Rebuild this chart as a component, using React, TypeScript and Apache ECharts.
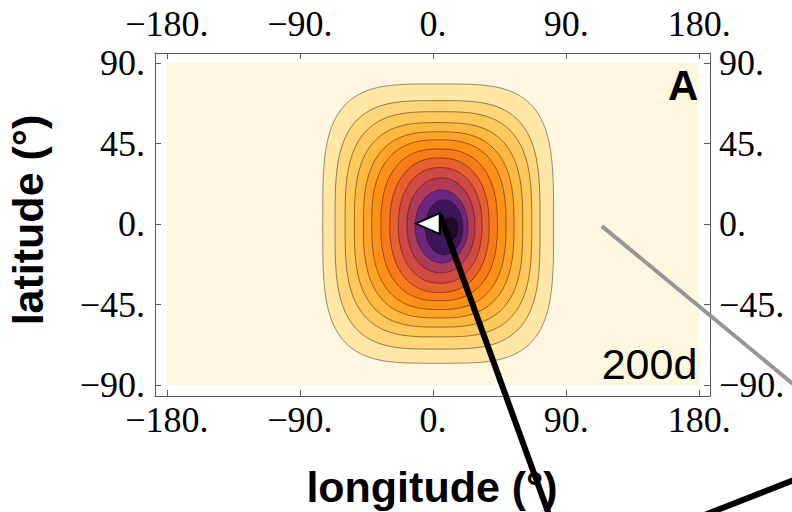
import { useEffect, useRef } from 'react';
import * as echarts from 'echarts';

// Axis ticks (degrees)
const lonTicks = [-180, -90, 0, 90, 180];
const latTicks = [-90, -45, 0, 45, 90];

// Contour boundaries, outermost first: centre, half extents (degrees) and squareness
const contourCenterLon = [3.4, 3.0, 3.6, 3.7, 3.8, 3.9, 4.1, 4.3, 4.8, 5.3, 5.7, 7.4, 11.8];
const contourCenterLat = [0.3, -0.4, -0.1, -0.4, -0.4, -0.3, -0.4, -0.6, -0.7, -0.7, -1.3, -1.8, -2.5];
const contourHalfLon = [78.0, 69.3, 63.1, 56.9, 50.9, 45.4, 39.4, 33.6, 28.3, 23.0, 17.9, 12.8, 5.1];
const contourHalfLat = [78.0, 69.4, 62.9, 57.1, 52.0, 47.4, 42.4, 37.6, 32.3, 26.5, 20.4, 15.4, 6.4];
const contourSquareness = [3.7, 3.4, 3.15, 2.95, 2.75, 2.6, 2.45, 2.3, 2.2, 2.1, 2.0, 2.0, 2.0];

// Source location (lon, lat)
const sourcePoint = [-3.6, 0.3];

const panelLabel = 'A';
const timeLabel = '200d';

// Fill colours: field background, then one per contour band (outer to inner)
const fieldColor = '#FEF6DF';
const bandColors = [
  '#FFE8A6', '#FFD67A', '#FFC85A', '#FFB840', '#FFA428', '#FF9018', '#F87A18',
  '#E86030', '#D24A44', '#B03C58', '#6E2780', '#3C1658', '#1E0A26',
];

// Connector lines to neighbouring panels, in lon/lat coordinates
const connectorLines = [
  { from: [4.8, 5.0], to: [80, -166], color: '#000000', width: 6 },
  { from: [114.1, -1.1], to: [262, -102], color: '#969696', width: 4 },
  { from: [180.6, -163.4], to: [250, -141], color: '#000000', width: 6 },
];

const fmt = (v: number) => (v < 0 ? '\u2212' + -v : String(v)) + '.';

const serif = 'Liberation Serif, Times New Roman, serif';
const sans = 'Liberation Sans, Arial, Helvetica, sans-serif';
const frameColor = '#5a5a5a';

function axisCommon(ticks: number[], margin: number) {
  return {
    type: 'value' as const,
    axisLine: { show: true, onZero: false, lineStyle: { color: frameColor, width: 1 } },
    axisTick: { show: true, inside: true, length: 6, customValues: ticks, lineStyle: { color: frameColor, width: 1 } },
    axisLabel: {
      customValues: ticks,
      formatter: fmt,
      fontFamily: serif,
      fontSize: 36,
      color: '#000',
      margin,
    },
    splitLine: { show: false },
  };
}

export default function App() {
  const ref = useRef<HTMLDivElement>(null);

  useEffect(() => {
    if (!ref.current) return;
    const chart = echarts.init(ref.current, undefined, { renderer: 'svg' });

    const contourData = contourCenterLon.map((lon, i) => [
      lon,
      contourCenterLat[i],
      contourHalfLon[i],
      contourHalfLat[i],
      contourSquareness[i],
    ]);

    const xMin = -188;
    const xMax = 187.2;
    const yMin = -96;
    const yMax = 95.6;

    chart.setOption({
      animation: false,
      grid: { left: 155, top: 53, width: 555, height: 343, containLabel: false },
      xAxis: [
        { ...axisCommon(lonTicks, 6), position: 'bottom', min: xMin, max: xMax },
        { ...axisCommon(lonTicks, 11), position: 'top', min: xMin, max: xMax },
      ],
      yAxis: [
        { ...axisCommon(latTicks, 10), position: 'left', min: yMin, max: yMax },
        { ...axisCommon(latTicks, 9), position: 'right', min: yMin, max: yMax },
      ],
      graphic: [
        {
          type: 'text',
          x: 432,
          y: 487,
          z: 1,
          style: { text: 'longitude (°)', font: `bold 43px ${sans}`, fill: '#000', align: 'center', verticalAlign: 'middle' },
        },
        {
          type: 'text',
          x: 28,
          y: 220,
          rotation: Math.PI / 2,
          z: 1,
          style: { text: 'latitude (°)', font: `bold 43px ${sans}`, fill: '#000', align: 'center', verticalAlign: 'middle' },
        },
      ],
      series: [
        {
          // field background
          type: 'custom',
          z: 1,
          data: [[0, 0]],
          renderItem: (_p: any, api: any) => {
            const a = api.coord([-180, 90]);
            const b = api.coord([180, -90]);
            return {
              type: 'rect',
              shape: { x: a[0], y: a[1], width: b[0] - a[0], height: b[1] - a[1] },
              style: { fill: fieldColor },
            };
          },
        },
        {
          // filled contour bands
          type: 'custom',
          z: 2,
          data: contourData,
          encode: { x: 0, y: 1 },
          renderItem: (p: any, api: any) => {
            const cx = api.value(0);
            const cy = api.value(1);
            const hx = api.value(2);
            const hy = api.value(3);
            const n = api.value(4);
            const pts: number[][] = [];
            const N = 200;
            for (let k = 0; k < N; k++) {
              const t = (k / N) * Math.PI * 2;
              const c = Math.cos(t);
              const s = Math.sin(t);
              const ex = Math.sign(c) * Math.pow(Math.abs(c), 2 / n);
              const ey = Math.sign(s) * Math.pow(Math.abs(s), 2 / n);
              pts.push(api.coord([cx + hx * ex, cy + hy * ey]));
            }
            return {
              type: 'polygon',
              shape: { points: pts },
              style: {
                fill: bandColors[p.dataIndex],
                stroke: p.dataIndex === 0 ? 'rgba(0,0,0,0.42)' : 'rgba(40,20,10,0.5)',
                lineWidth: 1,
              },
            };
          },
        },
        {
          // connector lines
          type: 'custom',
          z: 5,
          clip: false,
          data: connectorLines.map((c) => [c.from[0], c.from[1], c.to[0], c.to[1]]),
          encode: { x: 0, y: 1 },
          renderItem: (p: any, api: any) => {
            const a = api.coord([api.value(0), api.value(1)]);
            const b = api.coord([api.value(2), api.value(3)]);
            const c = connectorLines[p.dataIndex];
            return {
              type: 'line',
              shape: { x1: a[0], y1: a[1], x2: b[0], y2: b[1] },
              style: { stroke: c.color, lineWidth: c.width },
            };
          },
        },
        {
          type: 'scatter',
          z: 6,
          data: [sourcePoint],
          symbol: 'triangle',
          symbolRotate: 90,
          symbolSize: [21, 24],
          itemStyle: { color: '#ffffff', borderColor: '#000000', borderWidth: 2, opacity: 1 },
          silent: true,
        },
        {
          // panel annotations
          type: 'custom',
          z: 4,
          data: [[180, 90]],
          renderItem: (_p: any, api: any) => {
            const tr = api.coord([180, 90]);
            const br = api.coord([180, -90]);
            return {
              type: 'group',
              children: [
                {
                  type: 'text',
                  x: tr[0] - 1,
                  y: tr[1] + 22,
                  style: { text: panelLabel, font: `bold 42px ${sans}`, fill: '#000', align: 'right', verticalAlign: 'middle' },
                },
                {
                  type: 'text',
                  x: br[0] - 2,
                  y: br[1] - 21,
                  style: { text: timeLabel, font: `43px ${sans}`, fill: '#000', align: 'right', verticalAlign: 'middle' },
                },
              ],
            };
          },
        },
      ],
    });

    return () => chart.dispose();
  }, []);

  return (
    <div
      ref={ref}
      style={{ position: 'absolute', left: 0, top: 0, width: 792, height: 512, background: '#fff' }}
    />
  );
}
